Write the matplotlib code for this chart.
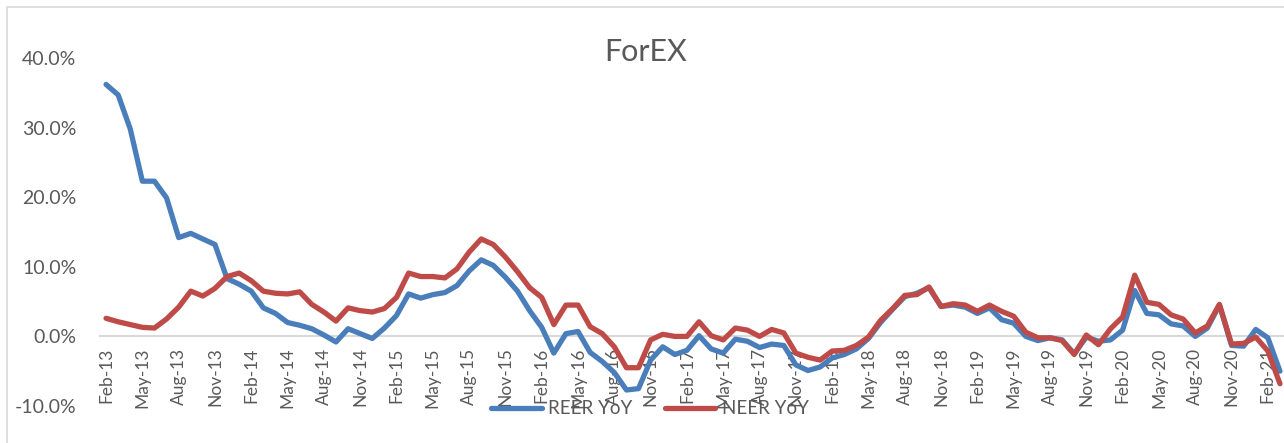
import matplotlib
matplotlib.use("Agg")
import matplotlib.pyplot as plt
from matplotlib.patches import Rectangle
import numpy as np
import pandas as pd

dates = pd.date_range("2013-02-01", "2021-03-01", freq="MS")

reer_yoy = [36.2, 34.7, 29.8, 22.3, 22.3, 19.9, 14.2, 14.8, 14.0, 13.2,
            8.3, 7.5, 6.5, 4.1, 3.3, 2.0, 1.6, 1.1, 0.2, -0.8,
            1.1, 0.4, -0.3, 1.2, 3.0, 6.1, 5.5, 6.0, 6.3, 7.3,
            9.4, 11.0, 10.2, 8.5, 6.5, 3.7, 1.3, -2.4, 0.4, 0.7,
            -2.3, -3.6, -5.2, -7.7, -7.5, -3.4, -1.5, -2.6, -2.0, 0.1,
            -1.8, -2.4, -0.4, -0.7, -1.6, -1.1, -1.3, -4.1, -4.9, -4.4,
            -3.1, -2.6, -1.8, -0.3, 2.0, 3.9, 5.7, 6.2, 7.0, 4.3,
            4.5, 4.2, 3.3, 4.1, 2.4, 1.9, 0.0, -0.6, -0.2, -0.5,
            -2.5, -0.1, -0.7, -0.5, 0.9, 6.6, 3.3, 3.1, 1.8, 1.5,
            0.0, 1.2, 4.5, -1.3, -1.4, 1.0, -0.2, -5.0]

neer_yoy = [2.6, 2.1, 1.7, 1.3, 1.2, 2.5, 4.2, 6.5, 5.8, 6.9,
            8.6, 9.1, 8.0, 6.5, 6.2, 6.1, 6.4, 4.6, 3.5, 2.2,
            4.1, 3.7, 3.5, 4.0, 5.6, 9.1, 8.6, 8.6, 8.4, 9.7,
            12.1, 14.0, 13.2, 11.4, 9.3, 7.0, 5.6, 1.7, 4.5, 4.5,
            1.4, 0.4, -1.5, -4.5, -4.5, -0.5, 0.3, 0.0, 0.0, 2.1,
            0.1, -0.5, 1.2, 0.9, 0.0, 1.0, 0.5, -2.4, -3.0, -3.4,
            -2.1, -2.0, -1.3, -0.1, 2.3, 4.0, 5.9, 6.0, 7.1, 4.3,
            4.7, 4.5, 3.6, 4.5, 3.6, 2.9, 0.6, -0.2, -0.2, -0.6,
            -2.6, 0.2, -1.2, 1.1, 2.8, 8.8, 4.9, 4.6, 3.1, 2.5,
            0.5, 1.5, 4.6, -1.1, -1.0, -0.1, -2.1, -6.8]

date_labels = [d.strftime("%b-%y") for d in dates]
y_ticks = [-10, 0, 10, 20, 30, 40]
y_tick_labels = [f"{v:.1f}%" for v in y_ticks]

plt.rcParams['font.family'] = ['Lato', 'DejaVu Sans']

W, H = 1284, 443
fig = plt.figure(figsize=(W / 100, H / 100), dpi=100)

# chart border
fig.patches.append(Rectangle((7 / W, -0.1), 1.2, 1 - 7 / H + 0.1,
                             transform=fig.transFigure, fill=False,
                             edgecolor="#D9D9D9", linewidth=1.2))

ax = fig.add_axes([100 / W, 37 / H, 1186 / W, 348 / H])
x = np.arange(len(dates))
blue = "#4A7EBB"
red = "#BE4B48"
ax.plot(x, reer_yoy, color=blue, lw=3.8, solid_capstyle="round",
        solid_joinstyle="round", label="REER YoY")
ax.plot(x, neer_yoy, color=red, lw=3.8, solid_capstyle="round",
        solid_joinstyle="round", label="NEER YoY")

ax.set_xlim(-0.5, len(dates) - 0.5)
ax.set_ylim(-10, 40)
ax.set_yticks(y_ticks)
ax.set_yticklabels(y_tick_labels)
ax.set_xticks(x[::3])
ax.set_xticklabels(date_labels[::3])

for s in ["top", "right", "left"]:
    ax.spines[s].set_visible(False)
ax.spines["bottom"].set_position(("data", 0))
ax.spines["bottom"].set_color("#D9D9D9")
ax.spines["bottom"].set_linewidth(1.5)
ax.spines["bottom"].set_zorder(0)
ax.tick_params(axis="x", length=0, pad=8, labelsize=12.5, labelcolor="#595959",
               labelrotation=90)
ax.tick_params(axis="y", length=0, pad=17, labelsize=14, labelcolor="#595959")
for lbl in ax.get_xticklabels():
    lbl.set_verticalalignment("top")
    lbl.set_horizontalalignment("center")

fig.text(646 / W, 1 - 52 / H, "ForEX", ha="center", va="center",
         fontsize=22, color="#595959")

fig.legend(loc="center", bbox_to_anchor=(650 / W, 1 - 409 / H), ncol=2,
           frameon=False, fontsize=13.5, labelcolor="#595959",
           handlelength=2.7, handletextpad=0.35, columnspacing=1.7)

fig.savefig("out.png", dpi=100)
